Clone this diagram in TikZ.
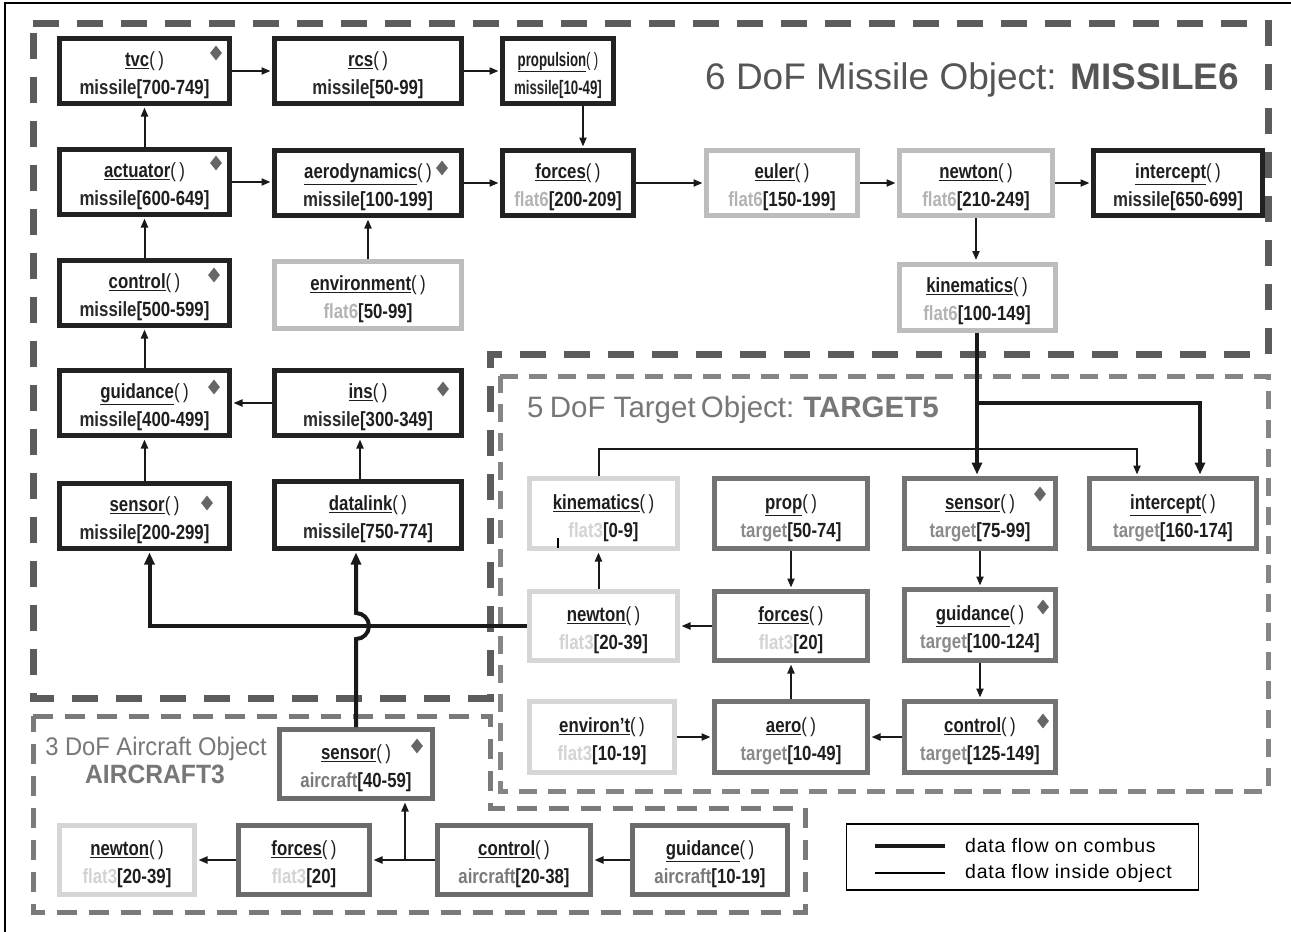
\documentclass[tikz,border=0pt]{standalone}
\usepackage{fontspec}
\setmainfont{Liberation Sans}
\newfontfamily\boxfont[FakeStretch=0.82]{Liberation Sans}
\newfontfamily\narrowfont[FakeStretch=0.68]{Liberation Sans}
\newfontfamily\acfont[FakeStretch=0.93]{Liberation Sans}
\usetikzlibrary{arrows.meta,shapes.geometric}
\definecolor{mline}{HTML}{222222}
\definecolor{mt}{HTML}{2A2A2A}
\definecolor{fsix}{HTML}{BDBDBD}
\definecolor{fsixt}{HTML}{B3B3B3}
\definecolor{fthree}{HTML}{D6D6D6}
\definecolor{fthreet}{HTML}{D3D3D3}
\definecolor{tline}{HTML}{737373}
\definecolor{tt}{HTML}{8A8A8A}
\definecolor{aline}{HTML}{6B6B6B}
\definecolor{att}{HTML}{7A7A7A}
\definecolor{dmiss}{HTML}{5C5C5C}
\definecolor{dtarg}{HTML}{858585}
\definecolor{dair}{HTML}{7A7A7A}
\definecolor{titlemiss}{HTML}{555555}
\definecolor{titleother}{HTML}{777777}
\definecolor{diam}{HTML}{666666}
\definecolor{txt}{HTML}{1E1E1E}
\newcommand\bxt[4]{\rule{0pt}{1.15em}\underline{#1}{\mdseries(\,)}\\\textcolor{#2}{#3}#4}
\tikzset{
  sz/.style 2 args={minimum width=#1pt,minimum height=#2pt},
  gbox/.style={draw, line width=5pt, fill=white, inner sep=0pt, align=center,
    font=\boxfont\bfseries\fontsize{20.5}{28}\selectfont, text=txt},
  mb/.style={gbox, draw=mline},
  fsb/.style={gbox, draw=fsix},
  ftb/.style={gbox, draw=fthree},
  tb/.style={gbox, draw=tline},
  ab/.style={gbox, draw=aline},
  dmd/.style={diamond, fill=diam, inner sep=0pt, minimum width=12pt, minimum height=15pt},
  flow/.style={line width=2pt, draw=black!90, -{Triangle[length=9pt,width=7pt]}, shorten >=1.5pt},
  combus/.style={line width=4pt, draw=black!90, -{Triangle[length=12pt,width=10pt]}, shorten >=1.5pt},
  plainbus/.style={line width=4pt, draw=black!90},
}
\begin{document}
\begin{tikzpicture}[x=1pt,y=-1pt]
\useasboundingbox (0,0) rectangle (1291,932);
\fill[white] (0,0) rectangle (1291,932);
\draw[line width=1.2pt] (5,932) -- (5,3) -- (1291,3);

% object boundaries
\draw[dmiss, line width=7pt, dash pattern=on 26pt off 18pt]
  (33,23) -- (1268,23) -- (1268,354) -- (490,354) -- (490,698) -- (33,698) -- cycle;
\draw[dtarg, line width=5pt, dash pattern=on 18pt off 11pt]
  (500,376) -- (1268,376) -- (1268,791) -- (500,791) -- cycle;
\draw[dair, line width=5pt, dash pattern=on 20pt off 12pt]
  (33,716) -- (490,716) -- (490,808) -- (805,808) -- (805,912) -- (33,912) -- cycle;

% titles
\node[anchor=base west, text=titlemiss, font=\fontsize{37}{40}\selectfont, inner sep=0pt] (tmiss) at (705,89) {6 DoF Missile Object: \textbf{MISSILE6}};
\node[anchor=base west, text=titleother, font=\fontsize{29.5}{30}\selectfont, inner sep=0pt] (ttarg) at (527,417) {5\hspace{-2pt} DoF Target\hspace{-3pt} Object:\hspace{-2pt} \textbf{TARGET5}};
\node[anchor=base, text=titleother, font=\acfont\fontsize{25.5}{28}\selectfont, inner sep=0pt] (tair) at (156,755) {3 DoF Aircraft Object};
\node[anchor=base, text=titleother, font=\acfont\bfseries\fontsize{26.5}{28}\selectfont, inner sep=0pt] (tair2) at (155,783) {AIRCRAFT3};

% missile boxes
\node[mb, sz={170}{65}] (tvc) at (144.5,71) {\bxt{tvc}{mt}{missile}{[700-749]}};
\node[mb, sz={170}{65}] (act) at (144.5,182) {\bxt{actuator}{mt}{missile}{[600-649]}};
\node[mb, sz={170}{65}] (ctrl) at (144.5,293) {\bxt{control}{mt}{missile}{[500-599]}};
\node[mb, sz={170}{65}] (guid) at (144.5,403) {\bxt{guidance}{mt}{missile}{[400-499]}};
\node[mb, sz={170}{65}] (msens) at (144.5,516) {\bxt{sensor}{mt}{missile}{[200-299]}};
\node[mb, sz={187}{65}] (rcs) at (368,71) {\bxt{rcs}{mt}{missile}{[50-99]}};
\node[mb, sz={187}{65}] (aero) at (368,183) {\bxt{aerodynamics}{mt}{missile}{[100-199]}};
\node[fsb, sz={187}{67}] (env) at (368,295) {\bxt{environment}{fsixt}{flat6}{[50-99]}};
\node[mb, sz={187}{65}] (ins) at (368,403) {\bxt{ins}{mt}{missile}{[300-349]}};
\node[mb, sz={187}{67}] (dlink) at (368,515) {\bxt{datalink}{mt}{missile}{[750-774]}};
\node[mb, sz={111}{65}, font=\narrowfont\bfseries\fontsize{19.5}{28}\selectfont] (prop) at (558,71) {\bxt{propulsion}{mt}{missile}{[10-49]}};
\node[mb, sz={131}{65}] (forc) at (568,183) {\bxt{forces}{fsixt}{flat6}{[200-209]}};
\node[fsb, sz={151}{65}] (euler) at (782,183) {\bxt{euler}{fsixt}{flat6}{[150-199]}};
\node[fsb, sz={153}{65}] (newt) at (976,183) {\bxt{newton}{fsixt}{flat6}{[210-249]}};
\node[mb, sz={169}{65}] (icpt) at (1178,183) {\bxt{intercept}{mt}{missile}{[650-699]}};
\node[fsb, sz={156}{66}] (kin) at (977,297) {\bxt{kinematics}{fsixt}{flat6}{[100-149]}};

% target boxes
\node[ftb, sz={148}{70}] (tkin) at (603.5,513.5) {\bxt{kinematics}{fthreet}{flat3}{[0-9]}};
\node[tb, sz={153}{70}] (tprop) at (791,513.5) {\bxt{prop}{tt}{target}{[50-74]}};
\node[tb, sz={151}{70}] (tsens) at (980,513.5) {\bxt{sensor}{tt}{target}{[75-99]}};
\node[tb, sz={167}{70}] (tint) at (1173,513.5) {\bxt{intercept}{tt}{target}{[160-174]}};
\node[ftb, sz={148}{69}] (tnewt) at (603.5,626) {\bxt{newton}{fthreet}{flat3}{[20-39]}};
\node[tb, sz={153}{69}] (tforc) at (791,626) {\bxt{forces}{fthreet}{flat3}{[20]}};
\node[tb, sz={151}{71}] (tguid) at (980,625) {\bxt{guidance}{tt}{target}{[100-124]}};
\node[ftb, sz={145}{71}] (tenv) at (602,737) {\bxt{environ’t}{fthreet}{flat3}{[10-19]}};
\node[tb, sz={153}{71}] (taero) at (791,737) {\bxt{aero}{tt}{target}{[10-49]}};
\node[tb, sz={151}{71}] (tctrl) at (980,737) {\bxt{control}{tt}{target}{[125-149]}};

% aircraft boxes
\node[ab, sz={153}{69}] (asens) at (356,764) {\bxt{sensor}{att}{aircraft}{[40-59]}};
\node[ftb, sz={135}{69}] (anewt) at (127,860) {\bxt{newton}{fthreet}{flat3}{[20-39]}};
\node[ab, sz={131}{69}] (aforc) at (304,860) {\bxt{forces}{fthreet}{flat3}{[20]}};
\node[ab, sz={153}{69}] (actrl) at (514,860) {\bxt{control}{att}{aircraft}{[20-38]}};
\node[ab, sz={155}{69}] (aguid) at (710,860) {\bxt{guidance}{att}{aircraft}{[10-19]}};

% diamonds
\node[dmd] (d1) at (216,53) {};
\node[dmd] (d2) at (216,163) {};
\node[dmd] (d3) at (442,168) {};
\node[dmd] (d4) at (214,275) {};
\node[dmd] (d5) at (214,387) {};
\node[dmd] (d6) at (443,389) {};
\node[dmd] (d7) at (207,503) {};
\node[dmd] (d8) at (1040,494) {};
\node[dmd] (d9) at (1043,607) {};
\node[dmd] (d10) at (1043,721) {};
\node[dmd] (d11) at (417,746) {};

% missile internal flow
\draw[flow] (tvc.east) -- (rcs.west);
\draw[flow] (rcs.east) -- (prop.west);
\coordinate (p1) at ([xshift=25pt]prop.south);
\draw[flow] (p1) -- (p1 |- forc.north);
\draw[flow] (act.north) -- (tvc.south);
\draw[flow] (act.east) -- (act.east -| aero.west);
\draw[flow] (aero.east) -- (forc.west);
\draw[flow] (env.north) -- (aero.south);
\draw[flow] (forc.east) -- (euler.west);
\draw[flow] (euler.east) -- (newt.west);
\draw[flow] (newt.east) -- (icpt.west);
\draw[flow] (newt.south) -- (newt.south |- kin.north);
\draw[flow] (ctrl.north) -- (act.south);
\draw[flow] (guid.north) -- (ctrl.south);
\draw[flow] (msens.north) -- (guid.south);
\draw[flow] (ins.west) -- (guid.east);
\draw[flow] ([xshift=-8pt]dlink.north) -- ([xshift=-8pt]ins.south);

% target internal flow
\coordinate (ti) at ([xshift=-36pt]tint.north);
\draw[flow] ([xshift=-5pt]tkin.north) -- ++(0,-27) -| (ti);
\draw[line width=2pt] (558,538) -- (558,548);
\draw[flow] ([xshift=-5pt]tnewt.north) -- ([xshift=-5pt]tkin.south);
\draw[flow] (tprop.south) -- (tforc.north);
\draw[flow] (tforc.west) -- (tnewt.east);
\draw[flow] (taero.north) -- (tforc.south);
\draw[flow] (tsens.south) -- (tguid.north);
\draw[flow] (tguid.south) -- (tctrl.north);
\draw[flow] (tctrl.west) -- (taero.east);
\draw[flow] (tenv.east) -- (taero.west);

% aircraft internal flow
\draw[flow] (aguid.west) -- (actrl.east);
\draw[flow] (actrl.west) -- (aforc.east);
\draw[flow] (aforc.west) -- (anewt.east);
\coordinate (ab) at (405,860);
\draw[flow] (ab) -- (ab |- asens.south);

% combus
\draw[combus] (kin.south) -- (kin.south |- tsens.north);
\coordinate (br) at (977,403);
\draw[combus] (br) -| ([xshift=27pt]tint.north);
\coordinate (c1) at ([xshift=5pt]msens.south);
\draw[combus] (tnewt.west) -| (c1);
\coordinate (hopc) at (asens.north |- tnewt.west);
\draw[combus] (asens.north) -- ([yshift=-13pt]hopc) arc[start angle=-90, end angle=90, radius=13pt] -- (asens.north |- dlink.south);

% legend
\node[draw, line width=1.5pt, sz={352}{66}, fill=white] (leg) at (1022.5,857) {};
\coordinate (l1) at (875,846);
\coordinate (l2) at (945,846);
\coordinate (l3) at (875,873);
\coordinate (l4) at (945,873);
\draw[plainbus] (l1) -- (l2);
\draw[line width=2pt] (l3) -- (l4);
\node[anchor=west, inner sep=0pt, font=\addfontfeature{LetterSpace=4}\fontsize{19.5}{20}\selectfont] (lt1) at (965,846) {data flow on combus};
\node[anchor=west, inner sep=0pt, font=\addfontfeature{LetterSpace=4}\fontsize{19.5}{20}\selectfont] (lt2) at (965,873) {data flow inside object};
\end{tikzpicture}
\end{document}
